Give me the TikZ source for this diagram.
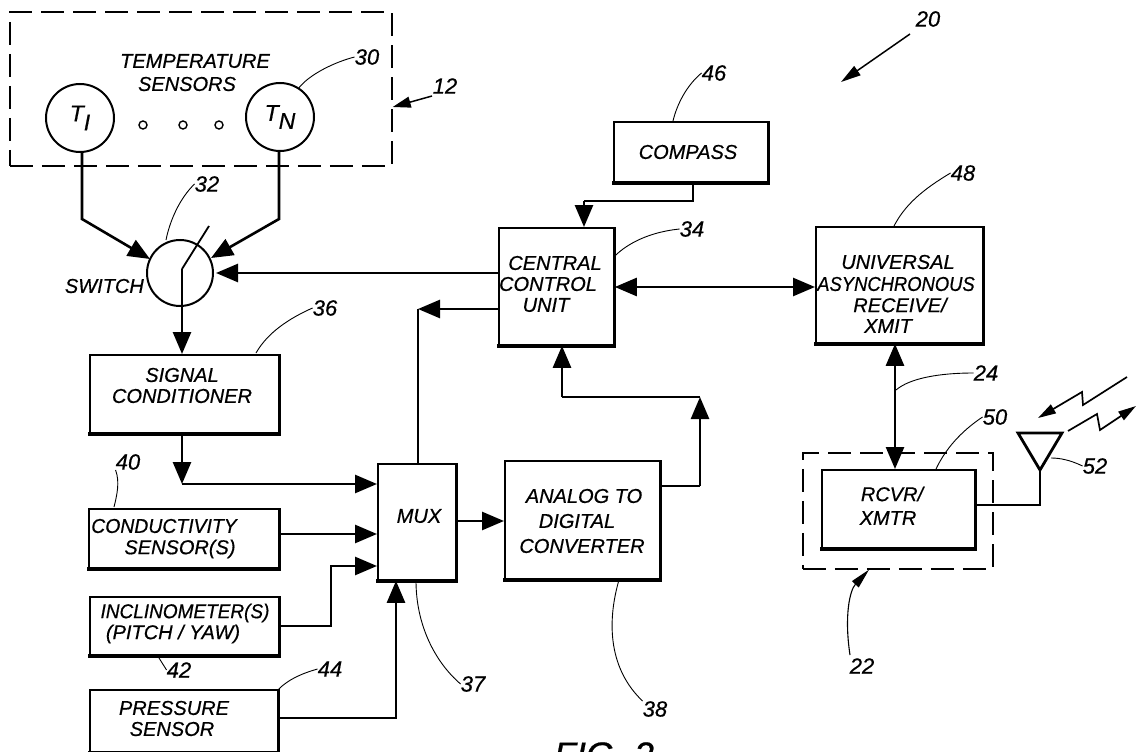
\documentclass[tikz,border=0pt]{standalone}
\usepackage{fontspec}
\setmainfont{Liberation Sans}[ItalicFeatures={FakeBold=0.6}]
\usetikzlibrary{arrows.meta,calc}
\tikzset{
  box/.style={draw,line width=1.8pt,inner sep=0pt,anchor=north west},
  circ/.style={draw,circle,line width=2pt,inner sep=0pt,minimum size=68pt,font=\fontsize{23}{25}\selectfont\itshape},
  lab/.style={inner sep=0pt,font=\fontsize{20}{22}\selectfont\itshape},
  num/.style={inner sep=0pt,font=\fontsize{22}{24}\selectfont\itshape},
  wire/.style={line width=2.6pt,line join=miter},
  arr/.style={wire,-{Triangle[length=22pt,width=18pt]}},
  biarr/.style={wire,{Triangle[length=22pt,width=18pt]}-{Triangle[length=22pt,width=18pt]}},
  leader/.style={line width=.9pt},
  dashbox/.style={draw,line width=1.7pt,dash pattern=on 23pt off 9pt,inner sep=0pt,anchor=north west},
  smallarr/.style={line width=1.7pt,-{Triangle[length=18pt,width=10pt]}},
}
\newcommand{\heavyedge}[1]{\draw[line width=3.4pt] ($(#1.south west)+(-1,0)$) -- ($(#1.south east)+(1,0)$); \draw[line width=3pt] (#1.north east) -- (#1.south east);}
\begin{document}
\begin{tikzpicture}[x=1pt,y=-1pt]
\useasboundingbox (0,0) rectangle (1136,752);
\clip (0,0) rectangle (1136,752);
% containers
\node[dashbox,minimum width=382pt,minimum height=154pt] (d12) at (9,11) {};
\node[dashbox,minimum width=190pt,minimum height=116pt] (d22) at (802,452) {};
% sensors
\node[circ] (t1) at (80,118) {T\raisebox{-9pt}{I}};
\node[circ] (tn) at (280,117) {T\raisebox{-8pt}{N}};
\node[draw,circle,line width=1.4pt,minimum size=8pt,inner sep=0pt] (o1) at (143,125) {};
\node[draw,circle,line width=1.4pt,minimum size=8pt,inner sep=0pt] (o2) at (183,125) {};
\node[draw,circle,line width=1.4pt,minimum size=8pt,inner sep=0pt] (o3) at (219,125) {};
\node[lab] (tt1) at (195,61) {TEMPERATURE};
\node[lab] (tt2) at (187,84) {SENSORS};
% switch
\node[circ,minimum size=66pt] (sw) at (180,273) {};
\node[lab,anchor=east] (swt) at (144,286) {SWITCH};
% boxes
\node[box,minimum width=189pt,minimum height=78pt] (sig) at (89,354) {};
\node[box,minimum width=190pt,minimum height=59pt] (con) at (88,508) {};
\node[box,minimum width=189pt,minimum height=58pt] (inc) at (89,596) {};
\node[box,minimum width=188pt,minimum height=62pt] (pre) at (89,689) {};
\node[box,minimum width=78pt,minimum height=116pt] (mux) at (377,463) {};
\node[box,minimum width=155pt,minimum height=118pt] (adc) at (504,460) {};
\node[box,minimum width=115pt,minimum height=117pt] (ccu) at (498,227) {};
\node[box,minimum width=154pt,minimum height=60pt] (cmp) at (613,121) {};
\node[box,minimum width=167pt,minimum height=116pt] (urt) at (815,226) {};
\node[box,minimum width=153pt,minimum height=78pt] (rcv) at (821,469) {};
\heavyedge{sig}\heavyedge{con}\heavyedge{inc}\heavyedge{pre}\heavyedge{mux}\heavyedge{adc}\heavyedge{ccu}\heavyedge{cmp}\heavyedge{urt}\heavyedge{rcv}
% box texts
\node[lab] (a1) at (182,375) {SIGNAL};
\node[lab] (a2) at (182,396) {CONDITIONER};
\node[lab] (b1) at (164,526) {\scalebox{.97}[1]{CONDUCTIVITY}};
\node[lab] (b2) at (180,549) {SENSOR(S)};
\node[lab] (c1) at (185,613) {\scalebox{.95}[1]{INCLINOMETER(S)}};
\node[lab] (c2) at (173,634) {(PITCH / YAW)};
\node[lab] (e1) at (174,708) {PRESSURE};
\node[lab] (e2) at (172,729) {SENSOR};
\node[lab] (m1) at (419,516) {MUX};
\node[lab] (f1) at (584,496) {ANALOG TO};
\node[lab] (f2) at (577,521) {DIGITAL};
\node[lab] (f3) at (582,546) {CONVERTER};
\node[lab] (g1) at (555,263) {CENTRAL};
\node[lab] (g2) at (548,284) {CONTROL};
\node[lab] (g3) at (546,305) {UNIT};
\node[lab] (h1) at (688,152) {COMPASS};
\node[lab] (i1) at (898,262) {UNIVERSAL};
\node[lab] (i2) at (896,284) {\scalebox{.92}[1]{ASYNCHRONOUS}};
\node[lab] (i3) at (900,305) {RECEIVE/};
\node[lab] (i4) at (888,326) {XMIT};
\node[lab] (j1) at (892,494) {RCVR/};
\node[lab] (j2) at (888,518) {XMTR};
% numbers
\node[num] (n12) at (445,86) {12};
\node[num] (n30) at (367,57) {30};
\node[num] (n32) at (207,184) {32};
\node[num] (n36) at (325,308) {36};
\node[num] (n40) at (128,462) {40};
\node[num] (n42) at (179,670) {42};
\node[num] (n44) at (330,669) {44};
\node[num] (n37) at (473,684) {37};
\node[num] (n38) at (655,709) {38};
\node[num] (n46) at (714,73) {46};
\node[num] (n20) at (928,19) {20};
\node[num] (n48) at (963,173) {48};
\node[num] (n34) at (692,229) {34};
\node[num] (n24) at (986,373) {24};
\node[num] (n50) at (995,417) {50};
\node[num] (n52) at (1095,466) {52};
\node[num] (n22) at (862,666) {22};
\node[font=\fontsize{36}{38}\selectfont\itshape,inner sep=0pt] (fig) at (604,755) {FIG. 2};
% routing coordinates
\coordinate (b1k) at (82,219);
\coordinate (bnk) at (279,219);
\coordinate (swin1) at (150,259);
\coordinate (swin2) at (211,258);
\coordinate (pivot) at (182,269);
\coordinate (armend) at (209,226);
\coordinate (sigk) at (182,484);
\coordinate (inck) at (331,626);
\coordinate (inck2) at (331,566);
\coordinate (prek) at (396,718);
\coordinate (muxk) at (418,309);
\coordinate (ccuk) at (562,397);
\coordinate (adck) at (700,397);
\coordinate (adck2) at (700,486);
\coordinate (cmpk) at (693,201);
\coordinate (cmpk2) at (584,201);
\coordinate (ant1) at (1018,433);
\coordinate (ant2) at (1062,433);
\coordinate (anttip) at (1040,470);
\coordinate (rcvk) at (1040,505);
% connectors
\draw[arr] (t1.south -| b1k) -- (b1k) -- (swin1);
\draw[arr] (tn.south -| bnk) -- (bnk) -- (swin2);
\draw[line width=1.8pt] (armend) -- (pivot);
\draw[arr] (pivot) -- (sig.north -| pivot);
\draw[arr] (ccu.west |- sw) -- ($(sw.east)+(2,0)$);
\draw[arr] (sig.south -| sigk) -- (sigk);
\draw[arr] (sigk) -- (sigk -| mux.west);
\draw[arr] (con.east |- 0,534) -- (mux.west |- 0,534);
\draw[arr] (inc.east |- inck) -- (inck) -- (inck2) -- (mux.west |- inck2);
\draw[arr] (pre.east |- prek) -- (prek) -- (prek |- mux.south);
\draw[wire] (mux.north -| muxk) -- (muxk);
\draw[arr] (ccu.west |- muxk) -- (muxk);
\draw[arr] (mux.east |- 0,521) -- (adc.west |- 0,521);
\draw[arr] (ccuk) -- (ccuk |- ccu.south);
\draw[wire] (ccuk) -- (adck);
\draw[wire] (adc.east |- adck2) -- (adck2);
\draw[arr] (adck2) -- (adck);
\draw[wire] (cmp.south -| cmpk) -- (cmpk) -- (cmpk2);
\draw[arr] (cmpk2) -- (cmpk2 |- ccu.north);
\draw[biarr] (ccu.east |- 0,287) -- (urt.west |- 0,287);
\draw[biarr] (urt.south -| 895,0) -- (rcv.north -| 895,0);
\draw[wire] (rcv.east |- rcvk) -- (rcvk) -- (anttip);
\draw[line width=2.8pt,line join=miter] (ant1) -- (ant2) -- (anttip) -- cycle;
% radio bolts
\coordinate (zi0) at (1127,377);\coordinate (zi1) at (1083,405);\coordinate (zi2) at (1082,392);\coordinate (zi3) at (1038,418);
\coordinate (zo0) at (1068,431);\coordinate (zo1) at (1097,414);\coordinate (zo2) at (1100,430);\coordinate (zo3) at (1136,406);
\draw[smallarr] (zi0) -- (zi1) -- (zi2) -- (zi3);
\draw[smallarr] (zo0) -- (zo1) -- (zo2) -- (zo3);
% reference arrows
\draw[line width=1.5pt,-{Triangle[length=18pt,width=11pt]}] (432,96) -- (d12.east |- 0,107);
\draw[line width=1.5pt,-{Triangle[length=20pt,width=11pt]}] (910,34) -- (841,82);
\draw[line width=1.1pt,-{Triangle[length=20pt,width=9pt]}] (850,655) .. controls (844,615) and (850,590) .. (d22.south -| 869,0);
% leaders
\draw[leader] (n30.west) .. controls (335,62) and (310,74) .. (tn.57);
\draw[leader] (n32.west) .. controls (180,198) and (170,220) .. (166,240);
\draw[leader] (n36.west) .. controls (290,318) and (268,332) .. (256,353);
\draw[leader] (n40.south west) .. controls (120,482) and (117,495) .. (114,507);
\draw[leader] (159,658) -- (n42.west);
\draw[leader] (n44.west) .. controls (300,674) and (288,680) .. (pre.north east);
\draw[leader] (mux.south -| 416,0) .. controls (416,625) and (435,662) .. (n37.west);
\draw[leader] (adc.south -| 619,0) .. controls (606,625) and (610,670) .. (n38.north west);
\draw[leader] (n46.west) .. controls (687,85) and (677,104) .. (cmp.north -| 673,0);
\draw[leader] (n48.west) .. controls (922,190) and (905,205) .. (urt.north -| 894,0);
\draw[leader] (n34.west) .. controls (650,232) and (628,243) .. (ccu.east |- 0,256);
\draw[leader] (n24.west) .. controls (940,373) and (910,378) .. (896,390);
\draw[leader] (n50.west) .. controls (960,432) and (945,450) .. (rcv.north -| 936,0);
\draw[leader] (n52.west) .. controls (1070,460) and (1060,458) .. (1051,458);
\end{tikzpicture}
\end{document}
